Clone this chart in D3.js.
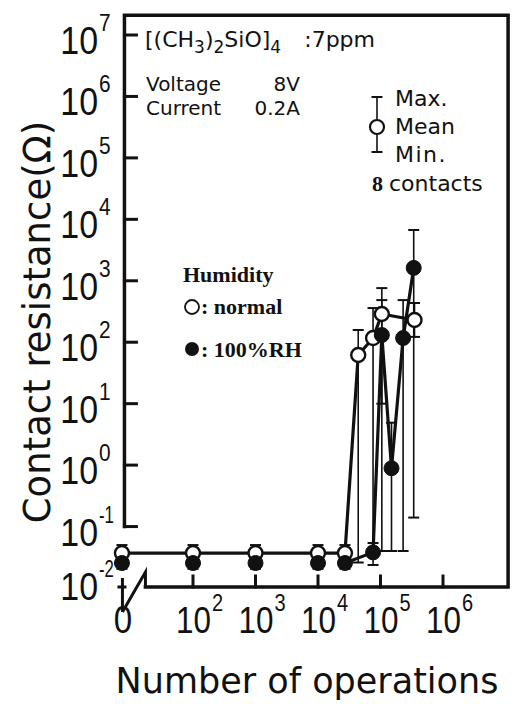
<!DOCTYPE html>
<html>
<head>
<meta charset="utf-8">
<script src="https://cdn.jsdelivr.net/npm/d3@7"></script>
<style>
  html, body { margin: 0; padding: 0; background: #fff; }
  svg { display: block; }
</style>
</head>
<body>
<script>
// ---------------- data ----------------
// Humidity "normal" (open circles)
const normalX    = [0, 1e2, 1e3, 1e4, 2.7e4, 4.4e4, 7.6e4, 1.05e5, 3.5e5];
const normalMean = [0.037, 0.037, 0.037, 0.037, 0.037, 62, 117, 288, 230];
const normalMax  = [0.05, 0.05, 0.05, 0.05, 0.05, 158, 360, 760, 435];
const normalMin  = [0.03, 0.03, 0.03, 0.03, 0.03, 0.026, 0.042, 10, 122];
// Humidity 100%RH (filled circles)
const humidX    = [0, 1e2, 1e3, 1e4, 2.7e4, 7.6e4, 1.05e5, 1.5e5, 2.3e5, 3.4e5];
const humidMean = [0.0255, 0.0255, 0.0255, 0.0255, 0.0255, 0.038, 131, 0.89, 117, 1620];
const humidMax  = [0.032, 0.032, 0.032, 0.032, 0.032, 0.054, 485, 4.9, 485, 6700];
const humidMin  = [0.0205, 0.0205, 0.0205, 0.0205, 0.0205, 0.0237, 0.04, 0.04, 0.04, 0.14];
const humidLineFrom = 4;   // the 100%RH connecting line is visible from the 4th flat point on

const yTickValues = [1e-2, 1e-1, 1e0, 1e1, 1e2, 1e3, 1e4, 1e5, 1e6, 1e7];
const yTickExp    = ["-2", "-1", "0", "1", "2", "3", "4", "5", "6", "7"];
const xTickValues = [1e2, 1e3, 1e4, 1e5, 1e6];
const xTickExp    = ["2", "3", "4", "5", "6"];
const xZeroLabel  = "0";

const yTitle = "Contact resistance(\u03A9)";
const xTitle = "Number of operations";

// ---------------- scales ----------------
const W = 516, H = 704;
const x = d3.scaleLog().domain([1e2, 1e6]).range([193, 443]);
const y = d3.scaleLog().domain([1e-2, 1e7]).range([588, 35]);
const ZERO_AT = 7.3;                 // where the "0" category sits on the broken log axis
const xPos = v => v === 0 ? x(ZERO_AT) : x(v);

const fLeft = x(8), fRight = x(1.1e7);
const fTop = y(2.1e7), fBottom = y(1e-2) - 1;

const svg = d3.select("body").append("svg").attr("width", W).attr("height", H);
const ink = "#111";
const sans = "'Liberation Sans', Arial, sans-serif";
const dv = "'DejaVu Sans', sans-serif";
const serif = "'Liberation Serif', 'Times New Roman', serif";

// ---------------- frame ----------------
const frame = svg.append("g").attr("fill", "none").attr("stroke", ink)
  .attr("stroke-width", 3.5).attr("stroke-linecap", "square");
frame.append("path").attr("d",
  `M${fLeft},${y(1e-1)} V${fTop} H${fRight} V${fBottom} H${fLeft + 21}`);
frame.append("path").attr("stroke-width", 3).attr("stroke-linecap", "butt").attr("d",
  `M${fLeft + 21},${fBottom} V${fBottom - 15} L${fLeft - 2},${fBottom + 25} M${fLeft - 2},${fBottom - 9} V${fBottom + 25} M${fLeft - 7},${fBottom} H${fLeft + 2}`);

frame.selectAll(".yt").data(yTickValues.filter(v => v >= 0.1)).join("line")
  .attr("stroke-width", 3)
  .attr("x1", fLeft).attr("x2", fLeft + 12)
  .attr("y1", d => y(d)).attr("y2", d => y(d));
frame.selectAll(".xt").data(xTickValues).join("line")
  .attr("stroke-width", 3)
  .attr("x1", d => x(d)).attr("x2", d => x(d))
  .attr("y1", fBottom).attr("y2", fBottom - 11);

// ---------------- tick labels ----------------
const yl = svg.append("g").attr("fill", ink);
yTickValues.forEach((v, i) => {
  const base = y(v) + (v === 1e-2 ? 12 : 19);
  yl.append("text").attr("transform", `translate(98,${base}) scale(0.87,1)`)
    .attr("text-anchor", "end").attr("font-family", sans).attr("font-size", 39).text("10");
  const sup = yTickExp[i];
  yl.append("text").attr("transform", `translate(99,${base - 23}) scale(${sup.startsWith("-") ? 0.7 : 0.87},1)`)
    .attr("font-family", sans).attr("font-size", 24).text(sup);
});
xTickValues.forEach((v, i) => {
  const base = 633;
  const ex = x(v) + 18;
  yl.append("text").attr("transform", `translate(${ex},${base}) scale(0.85,1)`)
    .attr("text-anchor", "end").attr("font-family", sans).attr("font-size", 37).text("10");
  yl.append("text").attr("transform", `translate(${ex + 1},${base - 22}) scale(0.87,1)`)
    .attr("font-family", sans).attr("font-size", 23).text(xTickExp[i]);
});
yl.append("text").attr("transform", `translate(${xPos(0) + 1},633) scale(0.87,1)`)
  .attr("text-anchor", "middle").attr("font-family", sans).attr("font-size", 38).text(xZeroLabel);

// ---------------- titles ----------------
svg.append("text").attr("transform", "translate(50,322) rotate(-90)")
  .attr("text-anchor", "middle").attr("font-family", dv).attr("font-size", 37)
  .attr("fill", ink).text(yTitle);
svg.append("text").attr("x", 307).attr("y", 693)
  .attr("text-anchor", "middle").attr("font-family", dv).attr("font-size", 35)
  .attr("fill", ink).text(xTitle);

// ---------------- data marks ----------------
const normal = normalX.map((v, i) => ({x: v, mean: normalMean[i], max: normalMax[i], min: normalMin[i]}));
const humid = humidX.map((v, i) => ({x: v, mean: humidMean[i], max: humidMax[i], min: humidMin[i]}));

const line = d3.line().x(d => xPos(d.x)).y(d => y(d.mean));
const plot = svg.append("g");
[normal, humid.slice(humidLineFrom)].forEach(s => {
  plot.append("path").datum(s).attr("d", line).attr("fill", "none")
    .attr("stroke", ink).attr("stroke-width", 3.2).attr("stroke-linejoin", "round");
});

function errorBars(s) {
  const g = plot.append("g").attr("stroke", ink).attr("stroke-width", 1.6).attr("fill", "none");
  g.selectAll("line.v").data(s).join("line")
    .attr("x1", d => xPos(d.x)).attr("x2", d => xPos(d.x))
    .attr("y1", d => y(d.max)).attr("y2", d => y(d.min));
  g.selectAll("line.t").data(s).join("line").attr("stroke-width", 2)
    .attr("x1", d => xPos(d.x) - 5.5).attr("x2", d => xPos(d.x) + 5.5)
    .attr("y1", d => y(d.max)).attr("y2", d => y(d.max));
  g.selectAll("line.b").data(s).join("line").attr("stroke-width", 2)
    .attr("x1", d => xPos(d.x) - 5.5).attr("x2", d => xPos(d.x) + 5.5)
    .attr("y1", d => y(d.min)).attr("y2", d => y(d.min));
}
errorBars(normal);
errorBars(humid);

plot.append("g").selectAll("circle").data(normal).join("circle")
  .attr("cx", d => xPos(d.x)).attr("cy", d => y(d.mean)).attr("r", 7)
  .attr("fill", "#fff").attr("stroke", ink).attr("stroke-width", 2.4);
plot.append("g").selectAll("circle").data(humid).join("circle")
  .attr("cx", d => xPos(d.x)).attr("cy", d => y(d.mean)).attr("r", 7.5)
  .attr("fill", ink).attr("stroke", ink).attr("stroke-width", 1);

// ---------------- annotations ----------------
const ann = svg.append("g").attr("fill", ink).attr("font-family", dv).attr("font-size", 20);
const formula = ann.append("text").attr("x", 145).attr("y", 47).attr("font-size", 22);
formula.append("tspan").text("[(CH");
formula.append("tspan").attr("font-size", 17).attr("dy", 6).text("3");
formula.append("tspan").attr("dy", -6).text(")");
formula.append("tspan").attr("font-size", 17).attr("dy", 6).text("2");
formula.append("tspan").attr("dy", -6).text("SiO]");
formula.append("tspan").attr("font-size", 17).attr("dy", 6).text("4");
ann.append("text").attr("x", 375).attr("y", 47).attr("font-size", 22)
  .attr("text-anchor", "end").text(":7ppm");

ann.append("text").attr("x", 146).attr("y", 90.5).text("Voltage");
ann.append("text").attr("x", 300).attr("y", 90.5).attr("text-anchor", "end").text("8V");
ann.append("text").attr("x", 146).attr("y", 114.5).text("Current");
ann.append("text").attr("x", 300).attr("y", 114.5).attr("text-anchor", "end").text("0.2A");

const lg = svg.append("g");
const lx = 377;
lg.append("line").attr("x1", lx).attr("x2", lx).attr("y1", 97).attr("y2", 152)
  .attr("stroke", ink).attr("stroke-width", 1.6);
[97, 152].forEach(v => lg.append("line").attr("x1", lx - 5.5).attr("x2", lx + 5.5)
  .attr("y1", v).attr("y2", v).attr("stroke", ink).attr("stroke-width", 2));
lg.append("circle").attr("cx", lx).attr("cy", 127).attr("r", 7)
  .attr("fill", "#fff").attr("stroke", ink).attr("stroke-width", 2.2);
ann.append("text").attr("x", 395).attr("y", 106).attr("font-size", 22).text("Max.");
ann.append("text").attr("x", 395).attr("y", 134).attr("font-size", 22).text("Mean");
ann.append("text").attr("x", 395).attr("y", 162).attr("font-size", 22).attr("letter-spacing", 1.5).text("Min.");
const ct = ann.append("text").attr("x", 372).attr("y", 191).attr("font-size", 22);
ct.append("tspan").attr("font-family", serif).attr("font-weight", "bold").text("8");
ct.append("tspan").attr("dx", 6).text("contacts");

const hum = svg.append("g").attr("fill", ink).attr("font-family", serif)
  .attr("font-weight", "bold").attr("font-size", 22);
hum.append("text").attr("x", 183).attr("y", 282).text("Humidity");
hum.append("circle").attr("cx", 192).attr("cy", 307).attr("r", 7)
  .attr("fill", "#fff").attr("stroke", ink).attr("stroke-width", 1.8);
hum.append("text").attr("x", 201).attr("y", 314).text(": normal");
hum.append("circle").attr("cx", 192).attr("cy", 349).attr("r", 7).attr("fill", ink);
hum.append("text").attr("x", 201).attr("y", 357).text(": 100%RH");
</script>
</body>
</html>
